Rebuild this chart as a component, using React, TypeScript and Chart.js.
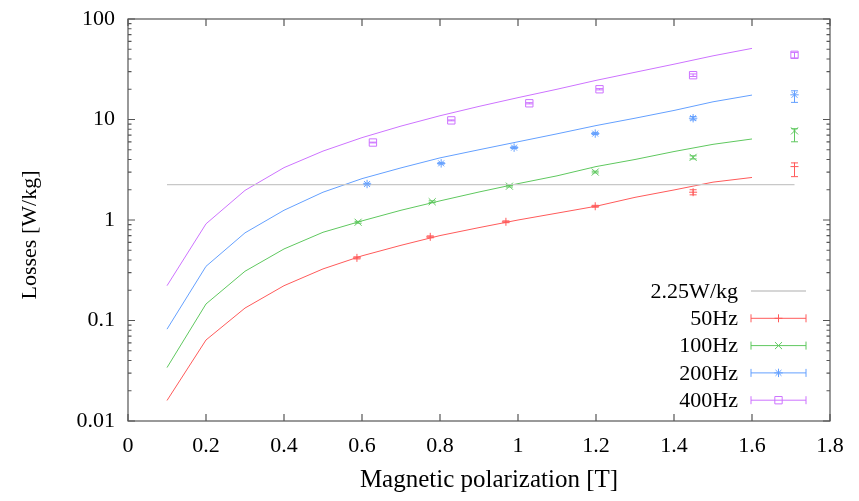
import React, { useEffect, useRef } from 'react';
import { Chart, registerables } from 'chart.js';

Chart.register(...registerables);

// Model curves, sampled every 0.1 T
const polarization = [0.1, 0.2, 0.3, 0.4, 0.5, 0.6, 0.7, 0.8, 0.9, 1.0, 1.1, 1.2, 1.3, 1.4, 1.5, 1.6];
const model50 = [0.016, 0.064, 0.133, 0.222, 0.326, 0.44, 0.56, 0.7, 0.84, 1.0, 1.17, 1.37, 1.68, 1.99, 2.38, 2.65];
const model100 = [0.034, 0.146, 0.309, 0.515, 0.755, 0.98, 1.25, 1.55, 1.9, 2.3, 2.75, 3.4, 4.0, 4.8, 5.66, 6.4];
const model200 = [0.082, 0.346, 0.745, 1.25, 1.89, 2.58, 3.3, 4.15, 5.0, 6.0, 7.2, 8.7, 10.3, 12.3, 15.0, 17.5];
const model400 = [0.222, 0.916, 1.97, 3.32, 4.85, 6.6, 8.6, 10.9, 13.5, 16.5, 20, 24.5, 29.5, 35.5, 43, 51];

// Measured losses with their error ranges
const meas50X = [0.587, 0.775, 0.969, 1.198, 1.449, 1.709];
const meas50Y = [0.42, 0.68, 0.96, 1.37, 1.89, 3.4];
const meas50Lo = [0.41, 0.665, 0.94, 1.34, 1.78, 2.7];
const meas50Hi = [0.43, 0.695, 0.98, 1.4, 2.0, 3.7];

const meas100X = [0.59, 0.78, 0.978, 1.198, 1.449, 1.709];
const meas100Y = [0.95, 1.52, 2.17, 3.0, 4.2, 7.7];
const meas100Lo = [0.93, 1.49, 2.13, 2.94, 4.05, 6.0];
const meas100Hi = [0.97, 1.55, 2.21, 3.06, 4.35, 8.1];

const meas200X = [0.613, 0.803, 0.99, 1.198, 1.449, 1.709];
const meas200Y = [2.28, 3.66, 5.25, 7.24, 10.3, 17.6];
const meas200Lo = [2.24, 3.6, 5.15, 7.1, 9.9, 14.8];
const meas200Hi = [2.32, 3.72, 5.35, 7.4, 10.7, 19.3];

const meas400X = [0.628, 0.829, 1.029, 1.209, 1.449, 1.709];
const meas400Y = [5.9, 9.8, 14.5, 20, 27.6, 44];
const meas400Lo = [5.85, 9.7, 14.3, 19.7, 26.8, 41];
const meas400Hi = [5.95, 9.9, 14.7, 20.3, 28.4, 46.5];

// Reference limit
const limitValue = 2.25;
const limitRange = [0.1, 1.709];

const seriesLabels = ['50Hz', '100Hz', '200Hz', '400Hz'];
const limitLabel = '2.25W/kg';

const xTickValues = [0, 0.2, 0.4, 0.6, 0.8, 1.0, 1.2, 1.4, 1.6, 1.8];
const xTickLabels = ['0', '0.2', '0.4', '0.6', '0.8', '1', '1.2', '1.4', '1.6', '1.8'];
const yTickValues = [0.01, 0.1, 1, 10, 100];
const yTickLabels = ['0.01', '0.1', '1', '10', '100'];

const xTitle = 'Magnetic polarization [T]';
const yTitle = 'Losses [W/kg]';

const FONT = "'Liberation Serif', 'Times New Roman', serif";
const colors = ['rgb(255,90,90)', 'rgb(95,200,95)', 'rgb(100,160,255)', 'rgb(205,115,255)'];
const limitColor = 'rgb(200,200,200)';
const frameColor = '#555';
const markerStyles = ['cross', 'crossRot', 'star', 'rect'];
const markerRadii = [4, 5, 4.2, 5.2];

const models = [model50, model100, model200, model400];
const measX = [meas50X, meas100X, meas200X, meas400X];
const measY = [meas50Y, meas100Y, meas200Y, meas400Y];
const measLo = [meas50Lo, meas100Lo, meas200Lo, meas400Lo];
const measHi = [meas50Hi, meas100Hi, meas200Hi, meas400Hi];

function drawMarker(ctx: CanvasRenderingContext2D, style: string, x: number, y: number, r: number) {
  ctx.beginPath();
  if (style === 'cross' || style === 'star') {
    ctx.moveTo(x - r, y); ctx.lineTo(x + r, y);
    ctx.moveTo(x, y - r); ctx.lineTo(x, y + r);
  }
  if (style === 'crossRot' || style === 'star') {
    const d = r * Math.SQRT1_2;
    ctx.moveTo(x - d, y - d); ctx.lineTo(x + d, y + d);
    ctx.moveTo(x - d, y + d); ctx.lineTo(x + d, y - d);
  }
  if (style === 'rect') {
    const s = r * Math.SQRT1_2;
    ctx.rect(x - s, y - s, 2 * s, 2 * s);
  }
  ctx.stroke();
}

const decorations = {
  id: 'decorations',
  afterDatasetsDraw(chart: any) {
    const { ctx, chartArea: a, scales } = chart;
    const xs = scales.x;
    const ys = scales.y;
    ctx.save();

    // error bars on the measured points
    for (let s = 0; s < 4; s++) {
      ctx.strokeStyle = colors[s];
      ctx.lineWidth = 1;
      measX[s].forEach((xv: number, i: number) => {
        const px = xs.getPixelForValue(xv);
        const pl = ys.getPixelForValue(measLo[s][i]);
        const ph = ys.getPixelForValue(measHi[s][i]);
        ctx.beginPath();
        ctx.moveTo(px, pl); ctx.lineTo(px, ph);
        ctx.moveTo(px - 3.5, pl); ctx.lineTo(px + 3.5, pl);
        ctx.moveTo(px - 3.5, ph); ctx.lineTo(px + 3.5, ph);
        ctx.stroke();
      });
    }

    // frame with inward ticks on all sides
    ctx.strokeStyle = frameColor;
    ctx.lineWidth = 1.2;
    ctx.strokeRect(a.left, a.top, a.right - a.left, a.bottom - a.top);
    ctx.beginPath();
    xTickValues.forEach((v) => {
      const px = xs.getPixelForValue(v);
      ctx.moveTo(px, a.bottom); ctx.lineTo(px, a.bottom - 7);
      ctx.moveTo(px, a.top); ctx.lineTo(px, a.top + 7);
    });
    for (let e = -2; e <= 2; e++) {
      for (let m = 1; m <= 9; m++) {
        const v = m * Math.pow(10, e);
        if (v > 100.0001) continue;
        const py = ys.getPixelForValue(v);
        const len = m === 1 ? 7 : 3.5;
        ctx.moveTo(a.left, py); ctx.lineTo(a.left + len, py);
        ctx.moveTo(a.right, py); ctx.lineTo(a.right - len, py);
      }
    }
    ctx.stroke();

    // axis titles
    ctx.fillStyle = '#000';
    ctx.textAlign = 'center';
    ctx.textBaseline = 'alphabetic';
    ctx.font = `25px ${FONT}`;
    ctx.fillText(xTitle, 489, 487);
    ctx.font = `22px ${FONT}`;
    ctx.save();
    ctx.translate(36, 235);
    ctx.rotate(-Math.PI / 2);
    ctx.fillText(yTitle, 0, 0);
    ctx.restore();

    // key
    const textRight = 738;
    const sx0 = 751;
    const sx1 = 806;
    const rows = [291, 318.3, 345.6, 372.9, 400.2];
    ctx.textAlign = 'right';
    ctx.textBaseline = 'middle';
    const labels = [limitLabel, ...seriesLabels];
    labels.forEach((lab, i) => {
      const ry = rows[i];
      ctx.fillStyle = '#000';
      ctx.fillText(lab, textRight, ry + 1);
      if (i === 0) {
        ctx.strokeStyle = limitColor;
        ctx.lineWidth = 1.3;
        ctx.beginPath();
        ctx.moveTo(sx0, ry); ctx.lineTo(sx1, ry);
        ctx.stroke();
      } else {
        const s = i - 1;
        ctx.strokeStyle = colors[s];
        ctx.lineWidth = 1;
        ctx.beginPath();
        ctx.moveTo(sx0, ry); ctx.lineTo(sx1, ry);
        ctx.moveTo(sx0, ry - 4); ctx.lineTo(sx0, ry + 4);
        ctx.moveTo(sx1, ry - 4); ctx.lineTo(sx1, ry + 4);
        ctx.stroke();
        drawMarker(ctx, markerStyles[s], (sx0 + sx1) / 2, ry, markerRadii[s]);
      }
    });

    ctx.restore();
  },
};

export default function App() {
  const canvasRef = useRef<HTMLCanvasElement | null>(null);

  useEffect(() => {
    const canvas = canvasRef.current;
    if (!canvas) return;

    const datasets: any[] = [
      {
        label: limitLabel,
        data: limitRange.map((x) => ({ x, y: limitValue })),
        showLine: true,
        borderColor: limitColor,
        borderWidth: 1.3,
        pointRadius: 0,
      },
    ];
    for (let s = 0; s < 4; s++) {
      datasets.push({
        label: seriesLabels[s] + ' model',
        data: polarization.map((x, i) => ({ x, y: models[s][i] })),
        showLine: true,
        borderColor: colors[s],
        borderWidth: 1,
        pointRadius: 0,
      });
      datasets.push({
        label: seriesLabels[s],
        data: measX[s].map((x, i) => ({ x, y: measY[s][i] })),
        showLine: false,
        borderColor: colors[s],
        backgroundColor: 'rgba(0,0,0,0)',
        pointStyle: markerStyles[s],
        pointRadius: markerRadii[s],
        pointBorderWidth: 1,
      });
    }

    const tickFont = { family: FONT, size: 22 };

    const chart = new Chart(canvas, {
      type: 'scatter',
      data: { datasets },
      plugins: [decorations],
      options: {
        animation: false,
        responsive: false,
        layout: { padding: { top: 19, right: 29, left: 0, bottom: 0 } },
        plugins: { legend: { display: false }, tooltip: { enabled: false } },
        scales: {
          x: {
            type: 'linear',
            min: 0,
            max: 1.8,
            grid: { display: false, drawTicks: false },
            border: { display: false },
            afterBuildTicks: (scale: any) => {
              scale.ticks = xTickValues.map((v) => ({ value: v }));
            },
            afterFit: (scale: any) => {
              scale.height = 80;
              scale.paddingLeft = 0;
              scale.paddingRight = 0;
            },
            ticks: {
              autoSkip: false,
              maxRotation: 0,
              padding: 12,
              color: '#000',
              font: tickFont,
              callback: (_v: any, i: number) => xTickLabels[i],
            },
          },
          y: {
            type: 'logarithmic',
            min: 0.01,
            max: 100,
            grid: { display: false, drawTicks: false },
            border: { display: false },
            afterBuildTicks: (scale: any) => {
              scale.ticks = yTickValues.map((v) => ({ value: v, major: true }));
            },
            afterFit: (scale: any) => {
              scale.width = 128;
              scale.paddingTop = 0;
              scale.paddingBottom = 0;
            },
            ticks: {
              autoSkip: false,
              padding: 13,
              color: '#000',
              font: tickFont,
              callback: (_v: any, i: number) => yTickLabels[i],
            },
          },
        },
      } as any,
    });

    return () => chart.destroy();
  }, []);

  return (
    <div style={{ position: 'fixed', left: 0, top: 0, width: 859, height: 501, background: '#fff' }}>
      <canvas ref={canvasRef} width={859} height={501} style={{ display: 'block' }} />
    </div>
  );
}
